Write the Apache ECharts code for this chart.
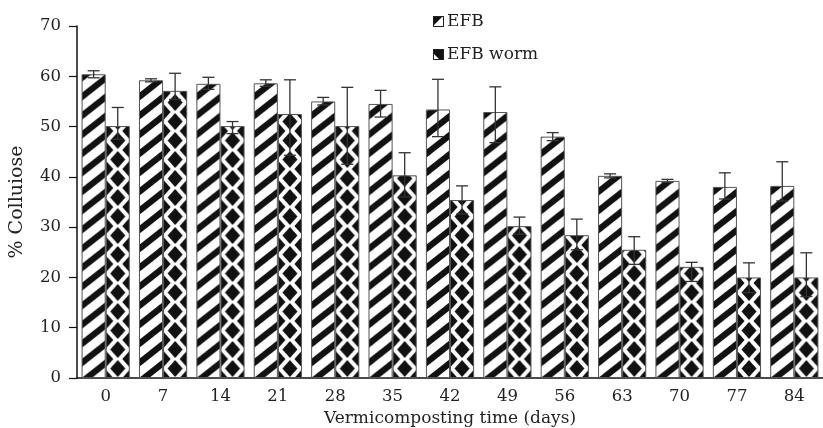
<!DOCTYPE html>
<html><head><meta charset="utf-8">
<script src="https://cdn.jsdelivr.net/npm/echarts@6.0.0/dist/echarts.min.js"></script>
<style>html,body{margin:0;padding:0;background:#fff}#c{width:823px;height:428px}</style>
</head><body><div id="c"></div>
<script>
const categories = ['0','7','14','21','28','35','42','49','56','63','70','77','84'];
const efb    = [60.4, 59.2, 58.5, 58.6, 55.0, 54.5, 53.4, 52.9, 48.0, 40.2, 39.2, 38.0, 38.2];
const efbHi  = [61.1, 59.5, 59.8, 59.3, 55.8, 57.2, 59.4, 57.9, 48.8, 40.6, 39.5, 40.8, 43.0];
const efbLo  = [59.7, 58.9, 57.4, 58.0, 54.3, 51.9, 48.0, 46.8, 47.2, 39.8, 38.9, 35.6, 35.2];
const worm   = [50.1, 57.1, 50.1, 52.5, 50.1, 40.3, 35.4, 30.2, 28.4, 25.5, 22.1, 20.0, 20.0];
const wormHi = [53.8, 60.6, 51.0, 59.3, 57.8, 44.8, 38.2, 32.0, 31.6, 28.1, 23.0, 22.9, 24.9];
const wormLo = [47.5, 55.4, 48.6, 44.3, 42.5, 36.0, 32.6, 28.6, 25.5, 22.6, 19.2, 17.0, 16.2];

const FONT = 'DejaVu Serif';
const TXT = '#231f20';
const CAT_GAP = 0.16;

function stripeCanvas() {
  const W = 24, H = 19, t = 8;
  const c = document.createElement('canvas'); c.width = W; c.height = H;
  const g = c.getContext('2d');
  g.fillStyle = '#fff'; g.fillRect(0, 0, W, H);
  g.fillStyle = '#111';
  for (let k = -2; k <= 1; k++) {
    g.beginPath();
    g.moveTo(0, H + k * H); g.lineTo(W, k * H);
    g.lineTo(W, k * H + t); g.lineTo(0, H + k * H + t);
    g.closePath(); g.fill();
  }
  return c;
}
function diamondCanvas() {
  const W = 24, H = 19, a = 7.5, b = 8.6;
  const c = document.createElement('canvas'); c.width = W; c.height = H;
  const g = c.getContext('2d');
  g.fillStyle = '#fff'; g.fillRect(0, 0, W, H);
  g.fillStyle = '#111';
  const centers = [[W / 2, H / 2], [0, 0], [W, 0], [0, H], [W, H]];
  centers.forEach(([cx, cy]) => {
    g.beginPath();
    g.moveTo(cx - a, cy); g.lineTo(cx, cy - b); g.lineTo(cx + a, cy); g.lineTo(cx, cy + b);
    g.closePath(); g.fill();
  });
  return c;
}
function iconEFB() {
  const c = document.createElement('canvas'); c.width = 11; c.height = 11;
  const g = c.getContext('2d');
  g.fillStyle = '#fff'; g.fillRect(0, 0, 11, 11);
  g.fillStyle = '#111';
  g.beginPath(); g.moveTo(0, 0); g.lineTo(10, 0); g.lineTo(0, 10); g.closePath(); g.fill();
  g.strokeStyle = '#222'; g.lineWidth = 1; g.strokeRect(0.5, 0.5, 10, 10);
  return 'image://' + c.toDataURL();
}
function iconWorm() {
  const c = document.createElement('canvas'); c.width = 11; c.height = 11;
  const g = c.getContext('2d');
  g.fillStyle = '#111'; g.fillRect(0, 0, 11, 11);
  g.fillStyle = '#fff';
  g.beginPath(); g.moveTo(1, 5); g.lineTo(1, 10); g.lineTo(6, 10); g.closePath(); g.fill();
  g.strokeStyle = '#222'; g.lineWidth = 1; g.strokeRect(0.5, 0.5, 10, 10);
  return 'image://' + c.toDataURL();
}

function errRender(side) {
  return function (params, api) {
    const i = api.value(0);
    const hi = api.coord([i, api.value(2)]);
    const lo = api.coord([i, api.value(1)]);
    const band = api.size([1, 0])[0];
    const bw = band * (1 - CAT_GAP) / 2;
    const x = hi[0] + side * bw / 2;
    const cap = 6;
    const st = { stroke: '#333', lineWidth: 1.3 };
    return {
      type: 'group', children: [
        { type: 'line', shape: { x1: x, y1: hi[1], x2: x, y2: lo[1] }, style: st },
        { type: 'line', shape: { x1: x - cap, y1: hi[1], x2: x + cap, y2: hi[1] }, style: st },
        { type: 'line', shape: { x1: x - cap, y1: lo[1], x2: x + cap, y2: lo[1] }, style: st }
      ]
    };
  };
}

const stripeImg = stripeCanvas();
const diamondImg = diamondCanvas();

const chart = echarts.init(document.getElementById('c'), null, { renderer: 'canvas' });
const option = {
  animation: false,
  backgroundColor: '#fff',
  textStyle: { fontFamily: FONT, color: TXT },
  grid: { left: 77, right: 0, top: 26, bottom: 50, containLabel: false, outerBoundsMode: 'none' },
  legend: {
    orient: 'vertical', left: 428, top: 8, itemGap: 16,
    itemWidth: 11, itemHeight: 11,
    textStyle: { fontFamily: FONT, fontSize: 17, color: TXT, padding: [0, 0, 0, -2] },
    data: [{ name: 'EFB', icon: iconEFB() }, { name: 'EFB worm', icon: iconWorm() }]
  },
  xAxis: {
    type: 'category', data: categories,
    axisLine: { lineStyle: { color: '#111', width: 1.5 } },
    axisTick: { show: false },
    axisLabel: { fontFamily: FONT, fontSize: 16.5, color: TXT, margin: 10 },
    name: 'Vermicomposting time (days)', nameLocation: 'middle', nameGap: 27,
    nameTextStyle: { fontFamily: FONT, fontSize: 17, color: TXT }
  },
  yAxis: {
    type: 'value', min: 0, max: 70, interval: 10,
    axisLine: { show: true, lineStyle: { color: '#111', width: 1.5 } },
    axisTick: { show: true, length: 8, lineStyle: { color: '#111', width: 1.2 } },
    splitLine: { show: false },
    axisLabel: { fontFamily: FONT, fontSize: 16.5, color: TXT, margin: 16 },
    name: '% Colluiose', nameLocation: 'middle', nameGap: 50,
    nameTextStyle: { fontFamily: FONT, fontSize: 19, color: TXT }
  },
  series: [
    {
      name: 'EFB', type: 'bar', data: efb, barGap: '0%', barCategoryGap: (CAT_GAP * 100) + '%',
      itemStyle: { color: { image: stripeImg, repeat: 'repeat' }, borderColor: '#555', borderWidth: 1 }
    },
    {
      name: 'EFB worm', type: 'bar', data: worm,
      itemStyle: { color: { image: diamondImg, repeat: 'repeat' }, borderColor: '#555', borderWidth: 1 }
    },
    {
      name: 'errEFB', type: 'custom', renderItem: errRender(-1), z: 10,
      encode: { x: 0, y: [1, 2] },
      data: categories.map((c, i) => [i, efbLo[i], efbHi[i]])
    },
    {
      name: 'errWorm', type: 'custom', renderItem: errRender(1), z: 10,
      encode: { x: 0, y: [1, 2] },
      data: categories.map((c, i) => [i, wormLo[i], wormHi[i]])
    }
  ]
};
chart.setOption(option);

// Align each bar's fill pattern with the bar itself (positions from the chart's own scales).
const c0 = chart.convertToPixel({ xAxisIndex: 0 }, 0);
const c1 = chart.convertToPixel({ xAxisIndex: 0 }, 1);
const bw = (c1 - c0) * (1 - CAT_GAP) / 2;
const baseY = chart.convertToPixel({ yAxisIndex: 0 }, 0);
function patterned(values, img, side) {
  return values.map((v, i) => {
    const cx = chart.convertToPixel({ xAxisIndex: 0 }, i);
    const left = side < 0 ? cx - bw : cx;
    return {
      value: v,
      itemStyle: {
        color: { image: img, repeat: 'repeat', x: left, y: baseY, scaleX: bw / img.width, scaleY: 1 }
      }
    };
  });
}
chart.setOption({
  series: [
    { name: 'EFB', data: patterned(efb, stripeImg, -1) },
    { name: 'EFB worm', data: patterned(worm, diamondImg, 1) }
  ]
});
</script>
</body></html>
